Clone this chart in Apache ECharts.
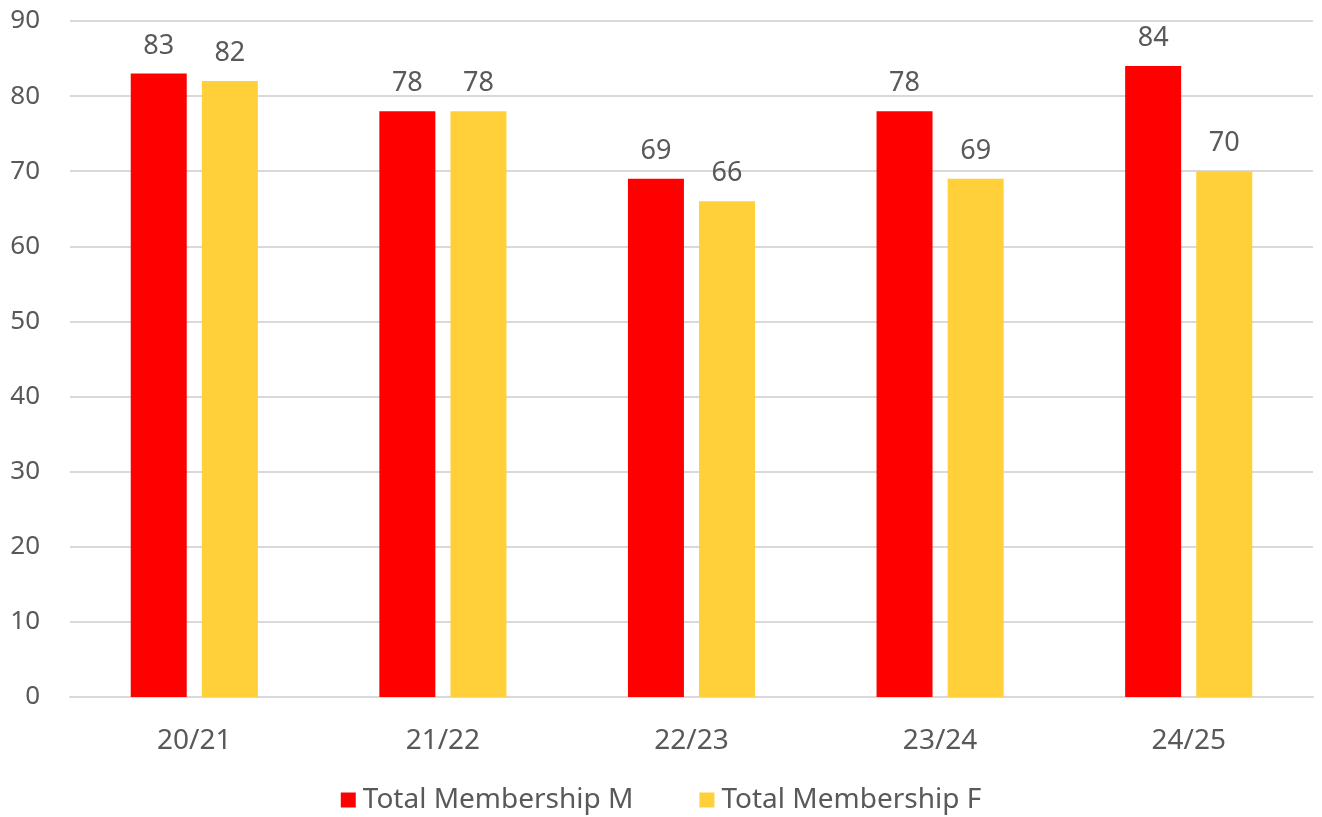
<!DOCTYPE html>
<html>
<head>
<meta charset="utf-8">
<script src="https://cdn.jsdelivr.net/npm/echarts@6/dist/echarts.min.js"></script>
<style>
  html, body { margin: 0; padding: 0; background: #fff; }
  #main { width: 1322px; height: 817px; }
</style>
</head>
<body>
<div id="main"></div>
<script>
// seasons and membership counts
var seasons = ['20/21', '21/22', '22/23', '23/24', '24/25'];
var totalM = [83, 78, 69, 78, 84];
var totalF = [82, 78, 66, 69, 70];
var yTicks = [0, 10, 20, 30, 40, 50, 60, 70, 80, 90];

var textColor = '#595959';
var font = 'Noto Sans';

var chart = echarts.init(document.getElementById('main'));

var option = {
  backgroundColor: '#fff',
  color: ['#FF0000', '#FFD03A'],
  textStyle: { fontFamily: font },
  grid: {
    left: 70,
    right: 9,
    top: 21,
    bottom: 120,
    containLabel: false
  },
  legend: {
    bottom: -2,
    left: 'center',
    itemWidth: 15,
    itemHeight: 15,
    itemGap: 66,
    icon: 'rect',
    textStyle: { color: textColor, fontSize: 28, fontFamily: font, padding: [0, 0, 0, 2] },
    data: ['Total Membership M', 'Total Membership F']
  },
  xAxis: {
    type: 'category',
    data: seasons,
    axisLine: { show: true, lineStyle: { color: '#d9d9d9', width: 2 } },
    axisTick: { show: false },
    axisLabel: { color: textColor, fontSize: 28, margin: 30, fontFamily: font }
  },
  yAxis: {
    type: 'value',
    min: yTicks[0],
    max: yTicks[yTicks.length - 1],
    interval: 10,
    axisLine: { show: false },
    axisTick: { show: false },
    axisLabel: { color: textColor, fontSize: 26, margin: 30, fontFamily: font },
    splitLine: { lineStyle: { color: '#d9d9d9', width: 2 } }
  },
  series: [{
    name: 'Total Membership M',
    type: 'bar',
    data: totalM,
    barWidth: 56,
    barGap: '27%',
    label: { show: true, position: 'top', distance: 14, color: textColor, fontSize: 27, fontFamily: font }
  }, {
    name: 'Total Membership F',
    type: 'bar',
    data: totalF,
    barWidth: 56,
    label: { show: true, position: 'top', distance: 14, color: textColor, fontSize: 27, fontFamily: font }
  }]
};

chart.setOption(option);
</script>
</body>
</html>
